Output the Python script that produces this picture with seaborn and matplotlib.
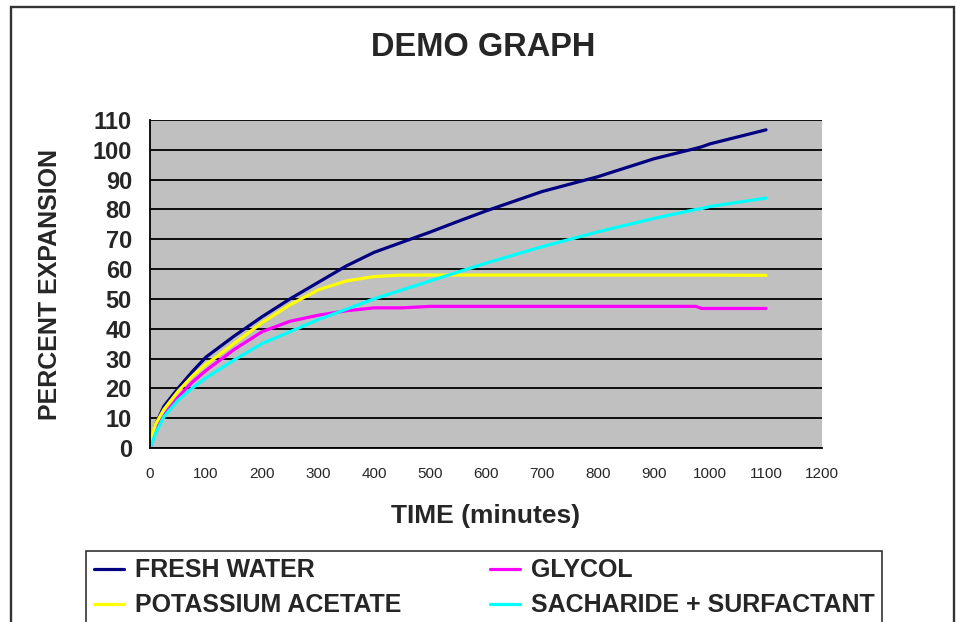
import numpy as np
import pandas as pd
import matplotlib
matplotlib.use("Agg")
import matplotlib.pyplot as plt
from matplotlib.lines import Line2D
from matplotlib.patches import Rectangle
import seaborn as sns

# ---- data ----
time_min = [0, 10, 25, 50, 75, 100, 125, 150, 200, 250, 300, 350, 400, 450,
            500, 550, 600, 700, 800, 900, 975, 985, 1000, 1100]
fresh_water = [0, 8, 14, 20, 25.5, 30.5, 34, 37.5, 44, 50, 55.5, 61, 65.6, 69,
               72.4, 76, 79.5, 86, 91, 97, 100.5, 101, 102, 106.7]
glycol = [0, 6, 11, 17, 22, 26, 29.5, 33, 39, 42.5, 44.5, 46, 47, 47,
          47.5, 47.5, 47.5, 47.5, 47.5, 47.5, 47.5, 46.8, 46.8, 46.8]
potassium_acetate = [2, 8, 13, 19, 24, 28, 31.5, 35, 42, 48, 53, 56, 57.5, 58,
                     58, 58, 58, 58, 58, 58, 58, 58, 58, 57.9]
sacharide_surfactant = [0, 5, 10.5, 16, 20, 23.5, 26.5, 29.5, 35, 39, 43, 46.5, 50, 53,
                        56, 59, 62, 67.5, 72.5, 77, 80, 80.3, 81, 83.8]

series_names = ["FRESH WATER", "GLYCOL", "POTASSIUM ACETATE", "SACHARIDE + SURFACTANT"]
series_colors = ["#000080", "#FF00FF", "#FFFF00", "#00FFFF"]
x_ticks = list(range(0, 1300, 100))
y_ticks = list(range(0, 120, 10))

title = "DEMO GRAPH"
x_label = "TIME (minutes)"
y_label = "PERCENT EXPANSION"

rows = []
for name, vals in zip(series_names, [fresh_water, glycol, potassium_acetate, sacharide_surfactant]):
    for t, v in zip(time_min, vals):
        rows.append({"time": t, "value": v, "series": name})
df = pd.DataFrame(rows)

# ---- figure ----
sns.set_style("white")
plt.rcParams["font.family"] = ["Liberation Sans", "DejaVu Sans"]

W, H = 956, 622
fig = plt.figure(figsize=(W / 100, H / 100), dpi=100)
ax = fig.add_axes([150 / W, 1 - 448 / H, (822 - 150) / W, (448 - 120) / H])
ax.set_facecolor("#C0C0C0")

palette = dict(zip(series_names, series_colors))
sns.lineplot(data=df, x="time", y="value", hue="series", hue_order=series_names,
             palette=palette, linewidth=2.3, estimator=None, sort=False,
             legend=False, ax=ax, zorder=3)

ax.set_xlim(0, 1200)
ax.set_ylim(0, 110)
ax.set_xticks(x_ticks)
ax.set_yticks(y_ticks)
ax.set_xticklabels([str(v) for v in x_ticks], fontsize=11)
ax.set_yticklabels([str(v) for v in y_ticks], fontsize=17, fontweight="bold")
ax.tick_params(axis="both", direction="out", length=6, width=1.2, color="black")
ax.tick_params(axis="x", pad=8)
ax.tick_params(axis="y", pad=7)

ax.yaxis.grid(True, color="black", linewidth=1.3)
ax.xaxis.grid(False)
ax.set_axisbelow(True)
for s in ["top", "right"]:
    ax.spines[s].set_visible(False)
for s in ["left", "bottom"]:
    ax.spines[s].set_color("black")
    ax.spines[s].set_linewidth(1.3)
    ax.spines[s].set_zorder(4)

ax.set_xlabel(x_label, fontsize=19, fontweight="bold", va="center", ha="center")
ax.xaxis.set_label_coords(0.5, (448 - 516) / 328)
ax.set_ylabel(y_label, fontsize=18, fontweight="bold", va="center", ha="center")
ax.yaxis.set_label_coords((50 - 150) / 672, 0.5)

fig.text(483 / W, 1 - 48 / H, title, fontsize=23.5, fontweight="bold",
         ha="center", va="center")

# outer chart frame
fig.patches.append(Rectangle((11 / W, -0.05), (954 - 11) / W, 1.05 - 7 / H,
                             transform=fig.transFigure, fill=False,
                             edgecolor="#333333", linewidth=1.7))

# legend
handles = [Line2D([], [], color=palette[n], linewidth=2.3) for n in series_names]
order = [0, 2, 1, 3]
leg = fig.legend([handles[i] for i in order], [series_names[i] for i in order],
                 ncol=2, loc="lower left",
                 bbox_to_anchor=(86 / W, -3 / H, (882 - 86) / W, 72 / H),
                 mode="expand", frameon=True, fancybox=False,
                 prop={"size": 18, "weight": "bold"},
                 handlelength=1.2, handletextpad=0.45, borderpad=0.3,
                 labelspacing=0.45, borderaxespad=0)
leg.get_frame().set_edgecolor("black")
leg.get_frame().set_linewidth(1.2)

fig.savefig("out.png", dpi=100)
